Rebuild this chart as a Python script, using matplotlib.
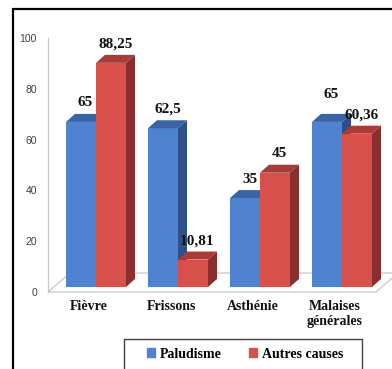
import matplotlib.pyplot as plt
from matplotlib.patches import Polygon, Rectangle

categories = ["Fièvre", "Frissons", "Asthénie", "Malaises\ngénérales"]
paludisme = [65, 62.5, 35, 65]
autres = [88.25, 10.81, 45, 60.36]
value_labels_p = ["65", "62,5", "35", "65"]
value_labels_a = ["88,25", "10,81", "45", "60,36"]
yticks = [0, 20, 40, 60, 80, 100]

W, H = 392, 369
fig = plt.figure(figsize=(W / 100, H / 100), dpi=100)
ax = fig.add_axes([48 / W, (H - 292) / H, 328 / W, 254 / H])
ax.set_xlim(-0.5, 3.5)
ax.set_ylim(0, 100)

# pixels per data unit, used for the fake 3D depth
sx = 328 / 4
sy = 254 / 100
front = (7 / sx, 5 / sy)      # bar front face set back from the floor edge
depth = (9 / sx, 8 / sy)      # bar depth
floor = (22 / sx, 19 / sy)    # floor depth
bw = 30 / sx

# floor
ax.add_patch(Polygon([(-0.5, 0), (3.5, 0), (3.5 + floor[0], floor[1]),
                      (-0.5 + floor[0], floor[1])], closed=True,
                     facecolor="white", edgecolor="#c8c8c8", lw=0.9,
                     clip_on=False, zorder=1))

colors = {
    "p": ("#4f82cf", "#3a63a3", "#2d5089"),
    "a": ("#d7504c", "#a83a38", "#8a2f2e"),
}


def draw_bars(vals, left, col):
    fc, tc, sc = col
    bars = ax.bar(left, vals, width=bw, bottom=front[1], align="edge",
                  color=fc, zorder=3)
    for b, v in zip(bars, vals):
        x0 = b.get_x()
        x1 = x0 + bw
        yb = front[1]
        yt = yb + v
        ax.add_patch(Polygon([(x0, yt), (x1, yt), (x1 + depth[0], yt + depth[1]),
                              (x0 + depth[0], yt + depth[1])],
                             facecolor=tc, edgecolor="none", zorder=3, clip_on=False))
        ax.add_patch(Polygon([(x1, yb), (x1 + depth[0], yb + depth[1]),
                              (x1 + depth[0], yt + depth[1]), (x1, yt)],
                             facecolor=sc, edgecolor="none", zorder=3, clip_on=False))
    return bars


xs = [i + front[0] for i in range(len(categories))]
draw_bars(paludisme, [x - bw for x in xs], colors["p"])
draw_bars(autres, xs, colors["a"])

lab_font = dict(family="Liberation Serif", weight="bold", size=11, color="#111111")
gap = 11 / sy
# the last blue label sits a bit higher to clear its neighbour
lift_p = [0, 0, 0, 8 / sy]
for i, x in enumerate(xs):
    ax.text(x - bw / 2 + depth[0] / 2,
            front[1] + paludisme[i] + depth[1] + gap + lift_p[i],
            value_labels_p[i], ha="center", va="center", **lab_font)
    ax.text(x + bw / 2 + depth[0] / 2, front[1] + autres[i] + depth[1] + gap,
            value_labels_a[i], ha="center", va="center", **lab_font)

ax.set_xticks(range(len(categories)))
ax.set_xticklabels(categories, family="Liberation Serif", weight="bold",
                   size=10, color="#111111", linespacing=1.15)
ax.set_yticks(yticks)
ax.set_yticklabels([str(t) for t in yticks], family="Liberation Sans",
                   size=7.5, color="#404040")
ax.tick_params(axis="both", length=0)
ax.tick_params(axis="y", pad=8)
ax.tick_params(axis="x", pad=6)
for s in ["top", "right", "bottom"]:
    ax.spines[s].set_visible(False)
ax.spines["left"].set_color("#c8c8c8")
ax.spines["left"].set_linewidth(0.9)
ax.patch.set_visible(False)

# outer chart border and legend box
fig.patches.append(Rectangle((13 / W, -0.1), 1.2, 1.1 - 9 / H, transform=fig.transFigure,
                             fill=False, edgecolor="black", lw=1.6))
fig.patches.append(Rectangle((124 / W, -0.1), 238 / W, 0.1 + (H - 339) / H,
                             transform=fig.transFigure, fill=False,
                             edgecolor="#404040", lw=1.0))

handles = [Rectangle((0, 0), 1, 1, color=colors["p"][0]),
           Rectangle((0, 0), 1, 1, color=colors["a"][0])]
fig.legend(handles, ["Paludisme", "Autres causes"], loc="center",
           bbox_to_anchor=(245 / W, (H - 354) / H), ncol=2, frameon=False,
           handlelength=0.6, handleheight=0.6, handletextpad=0.3,
           columnspacing=2.0,
           prop=dict(family="Liberation Serif", weight="bold", size=10))

fig.savefig("out.png", dpi=100)
